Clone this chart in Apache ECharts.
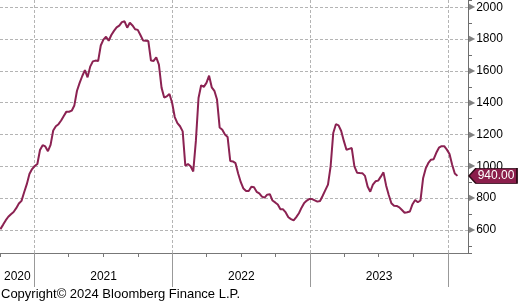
<!DOCTYPE html>
<html><head><meta charset="utf-8">
<script src="https://cdn.jsdelivr.net/npm/echarts@6/dist/echarts.min.js"></script>
<style>html,body{margin:0;padding:0;background:#fff}#c{width:518px;height:305px}</style>
</head><body><div id="c"></div>
<script>
// first weekly observation (year, monthIndex, day)
const startDate = [2020, 9, 2];
// weekly values
const values = [
605,632,660,683,699,713,737,766,783,837,888,952,983,1002,1015,1103,1133,1125,1095,1135,
1225,1252,1265,1288,1316,1344,1343,1350,1383,1475,1525,1568,1605,1560,1627,1660,1665,1662,1760,1797,
1815,1790,1826,1852,1874,1885,1907,1912,1872,1903,1886,1862,1858,1826,1792,1790,1788,1665,1663,1685,
1640,1495,1433,1440,1455,1400,1310,1272,1252,1220,1004,1014,1000,968,1160,1430,1510,1500,1525,1570,
1497,1475,1420,1244,1230,1200,1185,1034,1031,1020,955,900,860,845,845,872,868,840,830,810,
803,822,825,785,773,760,730,730,710,680,668,660,681,705,740,770,785,795,794,786,
778,782,815,850,885,1000,1210,1265,1258,1222,1160,1104,1110,1115,1000,960,958,957,940,873,
840,885,906,910,935,962,880,820,768,752,751,742,725,708,711,716,762,788,774,785,
925,987,1021,1042,1045,1085,1117,1127,1127,1105,1078,1010,955,940
];
const yearLabels = ['2020', '2021', '2022', '2023'];
const axisStart = [2020, 9, 1];
const axisEnd = [2024, 1, 23];
const yMin = 455, yMax = 2046;
const copyright = 'Copyright\u00A9 2024 Bloomberg Finance L.P.';

const DAY = 86400000;
const t0 = new Date(startDate[0], startDate[1], startDate[2]).getTime();
const dates = values.map((_, i) => t0 + i * 7 * DAY);
const xMin = new Date(axisStart[0], axisStart[1], axisStart[2]).getTime();
const xMax = new Date(axisEnd[0], axisEnd[1], axisEnd[2]).getTime();
const quarterTicks = [];
for (let y = 2020; y <= 2024; y++) for (const m of [0, 3, 6, 9]) {
  const t = new Date(y, m, 1).getTime();
  if (t >= xMin && t <= xMax) quarterTicks.push(t);
}
const yearTicks = [];
for (let y = 2020; y <= 2025; y++) {
  const t = new Date(y, 0, 1).getTime();
  if (t >= xMin && t <= xMax) yearTicks.push(t);
}
const labelPos = yearLabels.map(s => {
  const y = +s;
  const a = Math.max(xMin, new Date(y, 0, 1).getTime());
  const b = Math.min(xMax, new Date(y + 1, 0, 1).getTime());
  return (a + b) / 2;
});
const last = values[values.length - 1];
const FONT = '"Liberation Sans", Arial, sans-serif';
const grid = '#b4b4b4';

const chart = echarts.init(document.getElementById('c'), null, {renderer: 'canvas'});
chart.setOption({
  animation: false,
  textStyle: {fontFamily: FONT},
  title: {text: copyright, left: 1, top: 288, padding: 0,
    textStyle: {fontSize: 13, fontWeight: 'normal', color: '#000', fontFamily: FONT}},
  grid: {left: 0, right: 50, top: 0, bottom: 52, containLabel: false, outerBoundsMode: 'none'},
  xAxis: [
    {type: 'time', min: xMin, max: xMax,
      axisLine: {show: true, lineStyle: {color: '#777'}},
      axisTick: {show: true, customValues: quarterTicks, length: 4, lineStyle: {color: '#777'}},
      axisLabel: {show: false}, splitLine: {show: false}},
    {type: 'value', min: xMin, max: xMax, position: 'bottom',
      axisLine: {show: false},
      axisTick: {show: true, customValues: yearTicks, length: 34, lineStyle: {color: '#999'}},
      axisLabel: {show: true, customValues: labelPos, margin: 18, fontSize: 12, color: '#000',
        fontFamily: FONT, formatter: v => String(new Date(v).getFullYear())},
      splitLine: {show: true, lineStyle: {color: grid, type: [3, 2]}}}
  ],
  yAxis: [
    {type: 'value', position: 'right', min: yMin, max: yMax, splitNumber: 8, minInterval: 200, maxInterval: 200,
      axisLine: {show: true, lineStyle: {color: '#6e6e6e'}},
      axisTick: {show: false},
      axisLabel: {margin: 1, showMinLabel: false, showMaxLabel: false,
        formatter: v => '{t|\u25B6}{n|' + v + '}',
        rich: {t: {fontSize: 8, color: '#808080', padding: [0, 1, 0, 0], fontFamily: 'DejaVu Sans'},
               n: {fontSize: 12, color: '#000', fontFamily: FONT}}},
      splitLine: {show: true, showMinLine: false, showMaxLine: false, lineStyle: {color: grid, type: [3, 2]}}},
    {type: 'value', position: 'right', min: yMin, max: yMax, splitNumber: 16, minInterval: 100, maxInterval: 100,
      axisLine: {show: false},
      axisTick: {show: true, length: 4, lineStyle: {color: '#6e6e6e'}},
      axisLabel: {show: false}, splitLine: {show: false}}
  ],
  series: [{
    type: 'line', xAxisIndex: 0, yAxisIndex: 0,
    data: dates.map((d, i) => [d, values[i]]),
    showSymbol: false, symbol: 'none', clip: false,
    lineStyle: {color: '#8B2252', width: 2},
    markPoint: {
      silent: true,
      symbol: 'path://M0,8L8,0L56,0L56,16L8,16Z',
      symbolSize: [48, 15], symbolKeepAspect: false, symbolOffset: [25, 0],
      itemStyle: {color: '#8B1E4B', borderColor: '#2b0a16', borderWidth: 1},
      label: {show: true, position: 'inside', formatter: last.toFixed(2), color: '#fff',
        fontSize: 12, fontFamily: FONT, offset: [3, 0]},
      data: [{coord: [xMax, last], value: last}]
    }
  }]
});
</script></body></html>
